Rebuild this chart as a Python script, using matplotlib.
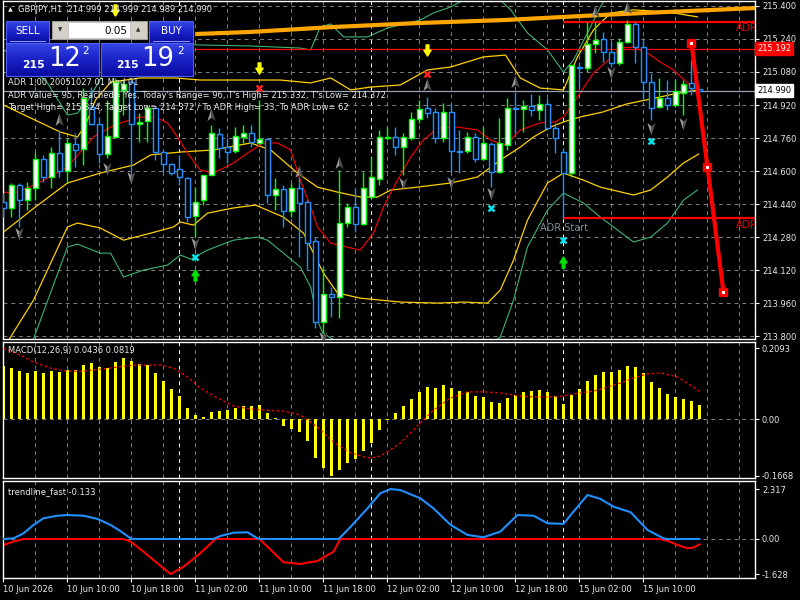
import matplotlib
matplotlib.use("Agg")
import matplotlib.pyplot as plt
import numpy as np
from matplotlib.path import Path
from matplotlib.colors import LinearSegmentedColormap

plt.rcParams["font.family"] = ["DejaVu Sans"]

# ---------------- GBPJPY H1 candles (bar 0 = 10 Jun 02:00) ----------------
opens = [214.450, 214.421, 214.532, 214.459, 214.518, 214.658, 214.571, 214.687, 214.600, 214.731,
         214.707, 214.910, 214.828, 214.682, 214.765, 214.993, 215.031, 214.828, 214.842, 214.905,
         214.692, 214.634, 214.610, 214.566, 214.382, 214.459, 214.581, 214.779, 214.716, 214.697,
         214.765, 214.784, 214.736, 214.755, 214.484, 214.513, 214.406, 214.518, 214.450, 214.261,
         213.868, 214.004, 213.989, 214.348, 214.426, 214.343, 214.474, 214.561, 214.760, 214.765,
         214.716, 214.760, 214.852, 214.905, 214.886, 214.760, 214.886, 214.697, 214.697, 214.765,
         214.658, 214.731, 214.595, 214.726, 214.905, 214.901, 214.915, 214.896, 214.925, 214.808,
         214.692, 214.590, 215.104, 215.099, 215.216, 215.240, 215.177, 215.124, 215.225, 215.313,
         215.201, 215.031, 214.910, 214.954, 214.920, 214.978, 215.027, 214.999]
highs = [214.493, 214.542, 214.542, 214.547, 214.692, 214.678, 214.716, 214.799, 214.760, 214.784,
         215.002, 215.007, 214.862, 214.944, 215.051, 215.041, 215.051, 214.881, 214.920, 214.915,
         214.702, 214.639, 214.678, 214.571, 214.522, 214.581, 214.823, 214.808, 214.760, 214.813,
         214.823, 214.823, 214.944, 214.760, 214.566, 214.532, 214.542, 214.571, 214.459, 214.280,
         214.135, 214.038, 214.605, 214.445, 214.518, 214.595, 214.668, 214.799, 214.813, 214.813,
         214.784, 214.886, 214.944, 214.959, 214.905, 214.930, 214.930, 214.799, 214.789, 214.784,
         214.813, 214.741, 214.857, 214.954, 214.983, 214.944, 214.973, 214.968, 214.954, 214.833,
         214.711, 215.114, 215.128, 215.322, 215.322, 215.274, 215.225, 215.245, 215.332, 215.322,
         215.245, 215.075, 215.051, 215.041, 215.041, 215.041, 215.138, 214.999]
lows = [214.377, 214.377, 214.329, 214.411, 214.459, 214.547, 214.518, 214.571, 214.542, 214.619,
        214.629, 214.823, 214.639, 214.663, 214.760, 214.871, 214.595, 214.741, 214.741, 214.653,
        214.595, 214.581, 214.532, 214.353, 214.280, 214.435, 214.581, 214.663, 214.639, 214.687,
        214.736, 214.716, 214.736, 214.445, 214.411, 214.329, 214.377, 214.183, 214.120, 213.839,
        213.815, 213.892, 213.887, 214.329, 214.304, 214.338, 214.469, 214.532, 214.750, 214.678,
        214.581, 214.750, 214.833, 214.857, 214.736, 214.741, 214.590, 214.590, 214.687, 214.644,
        214.653, 214.522, 214.590, 214.702, 214.784, 214.789, 214.867, 214.847, 214.799, 214.687,
        214.372, 214.571, 215.002, 215.080, 215.172, 215.128, 215.104, 215.114, 215.221, 215.124,
        214.944, 214.847, 214.905, 214.896, 214.910, 214.871, 214.968, 214.989]
closes = [214.421, 214.532, 214.459, 214.518, 214.658, 214.571, 214.687, 214.600, 214.736, 214.702,
          214.954, 214.828, 214.682, 214.770, 215.031, 215.022, 214.828, 214.838, 214.905, 214.692,
          214.634, 214.590, 214.571, 214.377, 214.450, 214.581, 214.784, 214.711, 214.692, 214.770,
          214.784, 214.741, 214.755, 214.484, 214.513, 214.406, 214.518, 214.445, 214.251, 213.868,
          214.004, 213.989, 214.348, 214.426, 214.343, 214.518, 214.571, 214.765, 214.765, 214.716,
          214.765, 214.852, 214.901, 214.881, 214.760, 214.886, 214.697, 214.692, 214.765, 214.658,
          214.736, 214.595, 214.736, 214.905, 214.901, 214.915, 214.896, 214.925, 214.808, 214.760,
          214.590, 215.114, 215.099, 215.216, 215.235, 215.177, 215.124, 215.225, 215.313, 215.201,
          215.031, 214.905, 214.954, 214.920, 214.988, 215.022, 215.002, 214.990]

# ---------------- overlay lines (bar position, price) ----------------
ma_x = [0, 1.25, 3, 4.6, 8, 9.6, 11.25, 13.4, 15, 17.1, 19.25, 20.5, 21.75, 23, 24.6, 26.25, 28.75,
        30.5, 32.5, 34.25, 35.9, 37.1, 38.4, 39.25, 40.9, 43.4, 44.6, 46.25, 47.5, 49.25, 50.9, 52.5,
        54.25, 56.75, 59.25, 60.9, 62.75, 64.6, 67.1, 69, 70, 71.75, 73.75, 75.9, 77.1, 78.75, 80.5,
        82.1, 83.75, 85.5, 86.1]
ma_y = [214.498, 214.493, 214.518, 214.547, 214.619, 214.692, 214.765, 214.813, 214.838, 214.862,
        214.857, 214.833, 214.765, 214.687, 214.605, 214.590, 214.639, 214.687, 214.736, 214.736,
        214.702, 214.556, 214.426, 214.329, 214.251, 214.227, 214.217, 214.299, 214.426, 214.556,
        214.668, 214.750, 214.808, 214.813, 214.799, 214.750, 214.726, 214.799, 214.833, 214.838,
        214.862, 214.959, 215.075, 215.148, 215.196, 215.201, 215.172, 215.128, 215.090, 215.027,
        215.007]

mid_x = [0, 4, 8, 12.1, 16.25, 18.4, 22.1, 26.25, 30.9, 33.4, 36.75, 39.25, 41.75, 44.6, 46.75,
         48.4, 51.75, 55.9, 59.25, 62.1, 64.6, 66.25, 68.4, 70, 72.1, 74.9, 77.9, 80.9, 83.75, 86.75]
mid_y = [214.304, 214.426, 214.542, 214.590, 214.629, 214.678, 214.692, 214.702, 214.736, 214.702,
         214.590, 214.522, 214.498, 214.474, 214.474, 214.508, 214.522, 214.542, 214.571, 214.653,
         214.716, 214.765, 214.813, 214.838, 214.862, 214.886, 214.925, 214.949, 214.973, 214.993]

up1_x = [0, 3.4, 7.1, 9.25, 10.25, 11.5, 13.4, 17.1, 21.5, 24.6, 28.4, 32.1, 34.6, 38.4, 40.9, 43.4,
         45.9, 49.6, 53, 55.9, 60, 62.75, 64.6, 67.1, 70, 71.75, 73.75, 75.9, 78.75, 83, 86.75]
up1_y = [214.920, 214.857, 214.789, 214.765, 214.823, 214.944, 215.031, 215.051, 215.051, 215.041,
         215.041, 215.041, 215.041, 215.027, 215.051, 214.993, 215.007, 215.017, 215.090, 215.104,
         215.153, 215.162, 215.051, 215.002, 214.993, 215.153, 215.284, 215.366, 215.381, 215.371,
         215.347]

lo1_x = [0, 3.75, 8, 9.25, 12.1, 15, 18.4, 21.25, 22.1, 23.75, 25.5, 28.75, 31.5, 35, 37.5, 38.75,
         40, 41.75, 44.6, 49.6, 54.25, 57.5, 60.5, 62.1, 63.75, 65.5, 68, 70, 72.5, 74.6, 78.75,
         80.9, 83, 85, 86.9]
lo1_y = [213.740, 213.974, 214.329, 214.348, 214.324, 214.265, 214.299, 214.329, 214.353, 214.338,
         214.396, 214.421, 214.435, 214.377, 214.299, 214.202, 214.105, 214.009, 213.984, 213.965,
         213.960, 213.965, 213.960, 214.023, 214.168, 214.362, 214.542, 214.590, 214.556, 214.522,
         214.484, 214.508, 214.571, 214.639, 214.682]

up2_x = [0, 2.75, 5.5, 8, 9.25, 10.6, 12.75, 15.9, 19.6, 24.25, 30.9, 37.1, 38.4, 39.6, 40.9, 42.5,
         45.5, 48, 49.6, 52.1, 53.75, 55.9, 58, 60.9, 62.1, 63.4, 65.5, 68, 70, 71.25, 73, 74.6,
         75.9, 80.9, 86.75]
up2_y = [215.187, 215.128, 215.027, 214.871, 214.881, 214.944, 215.090, 215.187, 215.225, 215.211,
         215.206, 215.196, 215.187, 215.298, 215.313, 215.250, 215.250, 215.293, 215.308, 215.332,
         215.366, 215.395, 215.439, 215.453, 215.429, 215.381, 215.269, 215.187, 215.080, 215.138,
         215.269, 215.395, 215.477, 215.526, 215.502]

lo2_x = [0, 3.75, 8, 9.25, 12.1, 13.4, 15, 17.5, 20.5, 22.1, 23.4, 25.5, 28.75, 31.75, 33, 35, 37.1,
         38.4, 39.25, 39.9, 41.75, 44.6, 49.6, 54.6, 58, 60.9, 62.1, 63.75, 65.5, 68, 70, 72.5, 74.6,
         78.75, 80.9, 83, 85, 86.75]
lo2_y = [213.490, 213.786, 214.232, 214.246, 214.202, 214.202, 214.086, 214.120, 214.144, 214.193,
         214.173, 214.217, 214.265, 214.280, 214.265, 214.202, 214.135, 214.038, 213.877, 213.815,
         213.771, 213.756, 213.742, 213.737, 213.747, 213.766, 213.795, 213.974, 214.232, 214.411,
         214.493, 214.445, 214.377, 214.256, 214.280, 214.348, 214.459, 214.508]

orange_x = [24, 30.9, 41.25, 51.75, 62.75, 74.6, 83, 94]
orange_y = [215.264, 215.274, 215.298, 215.317, 215.332, 215.356, 215.371, 215.390]

proj_x = [86, 88, 90]
proj_y = [215.221, 214.619, 214.013]

level_red = 215.192
adr_high = 215.324
adr_low = 214.372
adr_start = 70
last_price = 214.990

up_arrow_x = [7, 26, 37, 42, 53, 64, 74, 78]
up_arrow_y = [214.847, 214.871, 214.595, 214.639, 215.017, 215.031, 215.371, 215.390]
dn_arrow_x = [2, 13, 16, 24, 40, 50, 56, 61, 76, 81, 85]
dn_arrow_y = [214.299, 214.615, 214.571, 214.251, 213.795, 214.542, 214.547, 214.493, 215.080,
              214.808, 214.833]
cyan_x = [24, 61, 70, 81]
cyan_y = [214.183, 214.421, 214.265, 214.745]
redx_x = [32, 53]
redx_y = [215.002, 215.070]
sell_sig_x = [14, 32, 53]
sell_sig_y = [215.381, 215.099, 215.187]
buy_sig_x = [24, 70]
buy_sig_y = [214.096, 214.159]

# ---------------- MACD ----------------
macd = [0.157, 0.151, 0.142, 0.137, 0.142, 0.137, 0.142, 0.140, 0.145, 0.145,
        0.160, 0.166, 0.154, 0.151, 0.169, 0.181, 0.172, 0.163, 0.160, 0.137,
        0.113, 0.089, 0.069, 0.033, 0.013, 0.007, 0.022, 0.024, 0.027, 0.033,
        0.039, 0.039, 0.042, 0.019, 0.004, -0.020, -0.029, -0.037, -0.064, -0.114,
        -0.144, -0.1668, -0.150, -0.129, -0.117, -0.094, -0.071, -0.032, -0.002, 0.019,
        0.039, 0.060, 0.081, 0.095, 0.092, 0.101, 0.092, 0.083, 0.081, 0.069,
        0.066, 0.051, 0.048, 0.063, 0.072, 0.081, 0.083, 0.086, 0.081, 0.069,
        0.045, 0.072, 0.089, 0.113, 0.131, 0.140, 0.140, 0.145, 0.157, 0.154,
        0.137, 0.110, 0.092, 0.075, 0.066, 0.060, 0.054, 0.0436]
signal_x = [0, 2.1, 3.75, 5.9, 8, 10, 12.1, 14.25, 16.25, 19.6, 21.25, 23, 24.6, 26.75, 28.75, 30.9,
            33, 35, 37.1, 39.25, 41.25, 43.4, 45.5, 46.75, 48, 49.6, 52.1, 53.75, 55.9, 58, 60,
            62.1, 64.25, 66.25, 68.4, 70, 72.1, 73.75, 75.5, 77.1, 78.75, 80.5, 82.1, 84.25, 86.25, 87]
signal_y = [0.2093, 0.190, 0.169, 0.151, 0.142, 0.142, 0.148, 0.154, 0.160, 0.160, 0.151, 0.125,
            0.092, 0.063, 0.039, 0.030, 0.027, 0.024, 0.013, -0.023, -0.067, -0.099, -0.114, -0.111,
            -0.096, -0.070, -0.011, 0.027, 0.063, 0.081, 0.081, 0.078, 0.069, 0.066, 0.066, 0.069,
            0.078, 0.083, 0.095, 0.107, 0.122, 0.134, 0.137, 0.125, 0.095, 0.0819]

# ---------------- trendline_fast ----------------
tf_up_x = [0, 1.25, 2.5, 3.75, 5, 6.75, 8, 10, 11.75, 13.4, 14.6, 15.9, 16.25, 26.25, 27.1, 28.75,
           30.5, 31.75, 32, 41.9, 43.4, 45.5, 47.1, 48.4, 49.6, 52.1, 53.75, 55.9, 58, 60, 62.1,
           64.25, 66.25, 68, 70, 71.25, 73, 74.6, 76.25, 78.4, 80.5, 82.5, 83, 87]
tf_up_y = [0, 0.03, 0.26, 0.65, 0.96, 1.08, 1.11, 1.08, 0.93, 0.65, 0.37, 0.03, 0, 0, 0.14, 0.29,
           0.31, 0.03, 0, 0, 0.57, 1.42, 2.12, 2.317, 2.27, 1.89, 1.42, 0.65, 0.19, 0.08, 0.34,
           1.11, 1.08, 0.73, 0.70, 1.27, 2.04, 1.86, 1.50, 1.24, 0.42, 0.03, 0, 0]
tf_dn_x = [0, 1.25, 2.5, 15, 15.9, 17.5, 19.25, 20.9, 22.5, 24.6, 26.25, 26.5, 32, 33, 35, 37.1,
           39.25, 41.25, 42.1, 82, 83, 84.25, 85.5, 86.25, 87]
tf_dn_y = [-0.28, -0.12, 0, 0, -0.12, -0.59, -1.13, -1.628, -1.29, -0.66, -0.09, 0, 0, -0.36, -1.08,
           -1.16, -1.02, -0.59, 0, 0, -0.08, -0.28, -0.43, -0.40, -0.25]

day_starts = [22, 46, 70]
tick_bars = [0, 8, 16, 24, 32, 40, 48, 56, 64, 72, 80]
tick_labels = ["10 Jun 2026", "10 Jun 10:00", "10 Jun 18:00", "11 Jun 02:00", "11 Jun 10:00",
               "11 Jun 18:00", "12 Jun 02:00", "12 Jun 10:00", "12 Jun 18:00", "15 Jun 02:00",
               "15 Jun 10:00"]
price_ticks = [213.800, 213.960, 214.120, 214.280, 214.440, 214.600, 214.760, 214.920, 215.080,
               215.240, 215.400]

# ---------------- figure ----------------
W, H = 800, 600
fig = plt.figure(figsize=(8, 6), dpi=100, facecolor="black")


def panel(top, bottom):
    return fig.add_axes([3 / W, 1 - bottom / H, 752 / W, (bottom - top) / H])


ax = panel(1, 339)
ax_macd = panel(342, 478)
ax_tr = panel(481, 578)

GRID = "#808080"
TXT = "#e8e8e8"
FS = 6

for a in (ax, ax_macd, ax_tr):
    a.set_facecolor("black")
    a.set_xlim(-0.06, 93.94)
    for s in a.spines.values():
        s.set_color("white")
        s.set_linewidth(1)
    a.yaxis.tick_right()
    a.tick_params(axis="y", colors="white", labelcolor=TXT, labelsize=FS, length=3, width=0.8, pad=2)
    a.tick_params(axis="x", bottom=False, labelbottom=False)
    for b in range(4, 94, 4):
        a.axvline(b, color=GRID, lw=0.7, dashes=(4, 4), zorder=0)
    for b in day_starts:
        a.axvline(b, color="white", lw=0.7, dashes=(4, 4), zorder=0)

# main price panel
ax.set_ylim(213.786, 215.424)
ax.set_yticks(price_ticks)
ax.set_yticklabels([f"{v:.3f}" for v in price_ticks])
for v in price_ticks:
    ax.axhline(v, color=GRID, lw=0.7, dashes=(4, 4), zorder=0)

ax.plot(up2_x, up2_y, color="#3cb371", lw=0.8, zorder=2)
ax.plot(lo2_x, lo2_y, color="#3cb371", lw=0.8, zorder=2)
ax.plot(up1_x, up1_y, color="#ffd000", lw=0.9, zorder=2)
ax.plot(mid_x, mid_y, color="#ffd000", lw=0.9, zorder=2)
ax.plot(lo1_x, lo1_y, color="#ffd000", lw=0.9, zorder=2)
ax.plot(ma_x, ma_y, color="#ff0000", lw=0.8, zorder=2)
ax.plot(orange_x, orange_y, color="#ffa500", lw=3, zorder=2, solid_capstyle="butt")

ax.hlines(level_red, 24, 94, color="#ff0000", lw=0.9, zorder=2)
ax.hlines([adr_high, adr_low], adr_start, 94, color="#ff0000", lw=1.6, zorder=2)
ax.axhline(last_price, color="#9aa3b5", lw=0.9, zorder=2)

o = np.array(opens)
c = np.array(closes)
bars = np.arange(len(o))
bull = c >= o
edge = np.where(bull, "#00ff00", "#1e90ff")
ax.vlines(bars, lows, highs, colors=edge, lw=1, zorder=3)
ax.bar(bars, np.abs(c - o), bottom=np.minimum(o, c), width=0.55,
       color=np.where(bull, "white", "black"), edgecolor=edge, linewidth=1, zorder=4)

ax.plot(proj_x, proj_y, color="#ff0000", lw=3, zorder=5)
ax.plot(proj_x, proj_y, ls="none", marker="s", ms=5.5, color="#ff0000", zorder=6)
ax.plot(proj_x, proj_y, ls="none", marker="s", ms=1.2, color="white", zorder=7)

# arrow markers
up_l = Path([(0, 1), (-0.6, -0.8), (0, -0.3), (0, 1)],
            [Path.MOVETO, Path.LINETO, Path.LINETO, Path.CLOSEPOLY])
up_r = Path([(0, 1), (0.6, -0.8), (0, -0.3), (0, 1)],
            [Path.MOVETO, Path.LINETO, Path.LINETO, Path.CLOSEPOLY])
dn_l = Path([(0, -1), (-0.6, 0.8), (0, 0.3), (0, -1)],
            [Path.MOVETO, Path.LINETO, Path.LINETO, Path.CLOSEPOLY])
dn_r = Path([(0, -1), (0.6, 0.8), (0, 0.3), (0, -1)],
            [Path.MOVETO, Path.LINETO, Path.LINETO, Path.CLOSEPOLY])
ax.plot(up_arrow_x, up_arrow_y, ls="none", marker=up_l, ms=9, mfc="#9a9a9a", mec="#9a9a9a", mew=0.3, zorder=6)
ax.plot(up_arrow_x, up_arrow_y, ls="none", marker=up_r, ms=9, mfc="#4f4f4f", mec="#4f4f4f", mew=0.3, zorder=6)
ax.plot(dn_arrow_x, dn_arrow_y, ls="none", marker=dn_l, ms=9, mfc="#9a9a9a", mec="#9a9a9a", mew=0.3, zorder=6)
ax.plot(dn_arrow_x, dn_arrow_y, ls="none", marker=dn_r, ms=9, mfc="#4f4f4f", mec="#4f4f4f", mew=0.3, zorder=6)

fat_dn = Path([(-0.25, 1), (0.25, 1), (0.25, 0.05), (0.65, 0.05), (0, -1), (-0.65, 0.05),
               (-0.25, 0.05), (-0.25, 1)],
              [Path.MOVETO] + [Path.LINETO] * 6 + [Path.CLOSEPOLY])
fat_up = Path([(-0.25, -1), (0.25, -1), (0.25, -0.05), (0.65, -0.05), (0, 1), (-0.65, -0.05),
               (-0.25, -0.05), (-0.25, -1)],
              [Path.MOVETO] + [Path.LINETO] * 6 + [Path.CLOSEPOLY])
ax.plot(sell_sig_x, sell_sig_y, ls="none", marker=fat_dn, ms=8, color="#ffff00", zorder=8, clip_on=False)
ax.plot(buy_sig_x, buy_sig_y, ls="none", marker=fat_up, ms=8, color="#00e000", zorder=8)
ax.plot(cyan_x, cyan_y, ls="none", marker="x", ms=4.5, mew=1.8, color="#00e5ee", zorder=8)
ax.plot(redx_x, redx_y, ls="none", marker="x", ms=4.5, mew=1.8, color="#ff2020", zorder=8)

ax.text(67.06, 214.324, "ADR Start", color="#7f8c9c", fontsize=7, va="center", ha="left", zorder=8)
ax.text(91.6, 215.293, "ADR", color="#e00000", fontsize=7.5, va="center", ha="left", clip_on=True)
ax.text(91.6, 214.338, "ADR", color="#e00000", fontsize=7.5, va="center", ha="left", clip_on=True)

ytr = ax.get_yaxis_transform()
ax.text(1.003, level_red, "215.192", transform=ytr, color="white", fontsize=FS, va="center",
        ha="left", bbox=dict(boxstyle="square,pad=0.25", fc="#ff0000", ec="#ff0000"))
ax.text(1.003, last_price, "214.990", transform=ytr, color="black", fontsize=FS, va="center",
        ha="left", bbox=dict(boxstyle="square,pad=0.25", fc="white", ec="white"))

# MACD panel
ax_macd.set_ylim(-0.173, 0.228)
ax_macd.set_yticks([0.2093, 0.0, -0.1668])
ax_macd.set_yticklabels(["0.2093", "0.00", "-0.1668"])
ax_macd.axhline(0, color=GRID, lw=0.7, dashes=(4, 4), zorder=0)
ax_macd.bar(np.arange(len(macd)), macd, width=0.38, color="#ffff00", zorder=2)
ax_macd.plot(signal_x, signal_y, color="#ff0000", lw=0.9, dashes=(2, 2), zorder=3)

# trendline panel
ax_tr.set_ylim(-1.81, 2.69)
ax_tr.set_yticks([2.317, 0.0, -1.628])
ax_tr.set_yticklabels(["2.317", "0.00", "-1.628"])
ax_tr.axhline(0, color=GRID, lw=0.7, dashes=(4, 4), zorder=0)
ax_tr.plot(tf_dn_x, tf_dn_y, color="#ff0000", lw=1.5, zorder=2)
ax_tr.plot(tf_up_x, tf_up_y, color="#1e90ff", lw=1.5, zorder=3)
ax_tr.tick_params(axis="x", bottom=True, labelbottom=True, colors="white", labelcolor=TXT,
                  labelsize=FS, length=3, width=0.8, pad=2)
ax_tr.set_xticks(tick_bars)
ax_tr.set_xticklabels(tick_labels)
for lab in ax_tr.get_xticklabels():
    lab.set_ha("left")

# ---------------- overlay: header, trade panel, indicator texts ----------------
ui = fig.add_axes([0, 0, 1, 1])
ui.set_zorder(10)
ui.patch.set_alpha(0)
ui.axis("off")

blue = LinearSegmentedColormap.from_list("btn", ["#3546e6", "#1a22c8", "#0a0ca0"])
grad = np.linspace(0, 1, 32).reshape(-1, 1)


def box(x0, y0, x1, y1):
    ui.imshow(grad, cmap=blue, extent=(x0, x1, y1, y0), aspect="auto", zorder=1)
    ui.add_patch(plt.Rectangle((x0, y0), x1 - x0, y1 - y0, fill=False, ec="#5060f0", lw=0.8, zorder=2))


box(6, 21, 49, 43)
box(149, 21, 193, 43)
box(6, 43, 99, 76)
box(101, 43, 193, 76)
ui.add_patch(plt.Rectangle((52, 21), 95, 18, fc="#d4d0c8", ec="#a0a0a0", lw=0.8, zorder=2))
ui.add_patch(plt.Rectangle((68, 22), 62, 16, fc="white", ec="#c0c0c0", lw=0.6, zorder=3))
ui.text(60, 30, "▼", fontsize=4, color="#303030", ha="center", va="center", zorder=4)
ui.text(138.5, 30, "▲", fontsize=4, color="#303030", ha="center", va="center", zorder=4)
ui.text(127, 30.5, "0.05", fontsize=7.5, color="black", ha="right", va="center", zorder=4)
ui.plot([10, 45], [41, 41], color="#aab4ff", lw=0.6, zorder=3)
ui.plot([153, 189], [41, 41], color="#aab4ff", lw=0.6, zorder=3)
ui.text(27.5, 31, "SELL", fontsize=7.5, color="white", ha="center", va="center", zorder=4)
ui.text(171, 31, "BUY", fontsize=7.5, color="white", ha="center", va="center", zorder=4)
ui.text(33, 65, "215", fontsize=7.8, weight="bold", color="white", ha="center", va="center", zorder=4)
ui.text(65, 59, "12", fontsize=18.5, color="white", ha="center", va="center", zorder=4)
ui.text(86, 51, "2", fontsize=7.5, color="white", ha="center", va="center", zorder=4)
ui.text(127, 65, "215", fontsize=7.8, weight="bold", color="white", ha="center", va="center", zorder=4)
ui.text(158, 59, "19", fontsize=18.5, color="white", ha="center", va="center", zorder=4)
ui.text(181, 51, "2", fontsize=7.5, color="white", ha="center", va="center", zorder=4)
ui.set_xlim(0, W)
ui.set_ylim(H, 0)

ui.text(10, 9.5, "▲", fontsize=4.5, color=TXT, ha="center", va="center")
ui.text(18, 9.5, "GBPJPY,H1  214.999 214.999 214.989 214.990", fontsize=FS, color=TXT, va="center")
ui.text(8, 83, "ADR 1,00 20051027 01 Mod 01", fontsize=FS, color=TXT, va="center")
ui.text(8, 96, "ADR Value= 95, Reached= Yes, Today's Range= 96, T's High= 215.332, T's Low= 214.372",
        fontsize=FS, color=TXT, va="center")
ui.text(8, 108, "Target High= 215.324, Target Low= 214.372 / To ADR High= 33, To ADR Low= 62",
        fontsize=FS, color=TXT, va="center")
ui.text(8, 350, "MACD(12,26,9) 0.0436 0.0819", fontsize=FS, color=TXT, va="center")
ui.text(8, 492, "trendline_fast -0.133", fontsize=FS, color=TXT, va="center")

fig.savefig("out.png", dpi=100, facecolor="black")
